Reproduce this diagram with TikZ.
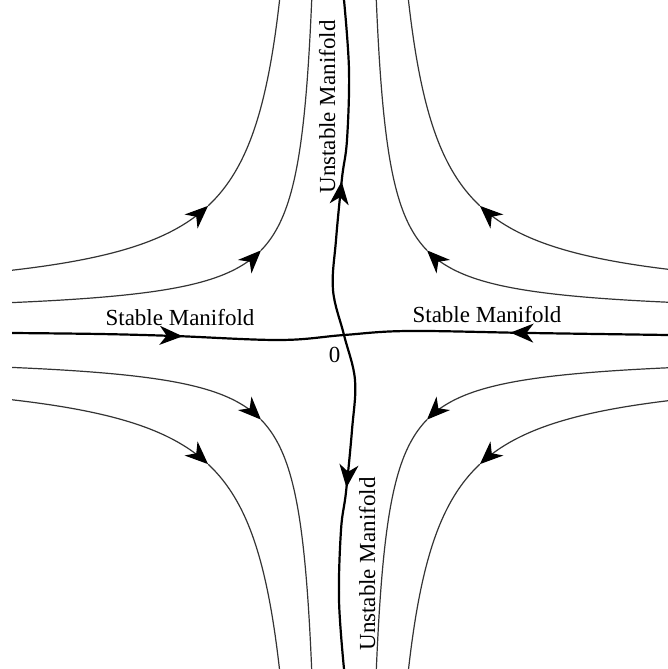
\documentclass[tikz,border=0pt]{standalone}
\usepackage{fontspec}
\setmainfont{Liberation Serif}
\usetikzlibrary{arrows.meta,decorations.markings}
\tikzset{
  flow/.style={line width=1.2pt, black!80},
  manifold/.style={line width=2.2pt, black},
  lbl/.style={font=\fontsize{23}{27}\selectfont, inner sep=0pt},
  flowhead/.style={{Stealth[length=23pt,width=19pt,inset=7pt,color=black]}-},
}
\newcommand\flowcurve[7]{%
  \draw[flow,flowhead] plot[domain=#6:#7,samples=70,variable=\t]
    ({344+(#1)*(#3+exp(\t))},{335+(#2)*(#3+#4/exp(\t))});
  \draw[flow] plot[domain=#5:#6,samples=70,variable=\t]
    ({344+(#1)*(#3+exp(\t))},{335+(#2)*(#3+#4/exp(\t))});
}
\begin{document}
\begin{tikzpicture}[x=1pt,y=-1pt]
\useasboundingbox[fill=white] (0,0) rectangle (668,669);
\begin{scope}
\clip (12,0) rectangle (668,669);
% outer curves
\flowcurve{-1}{-1}{30}{10500}{3.506}{4.663}{5.74}
\flowcurve{1}{-1}{30}{10500}{3.506}{4.663}{5.74}
\flowcurve{-1}{1}{30}{10500}{3.506}{4.663}{5.74}
\flowcurve{1}{1}{30}{10500}{3.506}{4.663}{5.74}
% inner curves
\flowcurve{-1}{-1}{19}{4200}{2.556}{4.159}{5.78}
\flowcurve{1}{-1}{19}{4200}{2.556}{4.159}{5.78}
\flowcurve{-1}{1}{19}{4200}{2.556}{4.159}{5.78}
\flowcurve{1}{1}{19}{4200}{2.556}{4.159}{5.78}
% stable manifold
\draw[manifold, postaction={decorate}, decoration={markings,
    mark=at position 0.26 with {\arrow{Stealth[length=23pt,width=19pt,inset=7pt]}},
    mark=at position 0.76 with {\arrowreversed{Stealth[length=23pt,width=19pt,inset=7pt]}}}]
  plot[smooth, tension=0.6] coordinates {(12,333) (100,334) (175,336) (280,340) (344,335) (408,331) (530,333) (668,335)};
% unstable manifold
\draw[manifold, postaction={decorate}, decoration={markings,
    mark=at position 0.27 with {\arrowreversed{Stealth[length=23pt,width=19pt,inset=7pt]}},
    mark=at position 0.73 with {\arrow{Stealth[length=23pt,width=19pt,inset=7pt]}}}]
  plot[smooth, tension=0.6] coordinates {(344,0) (349,70) (347,140) (342,178) (336,240) (333,290) (344,335) (355,380) (352,430) (346,492) (341,530) (339,600) (344,669)};
\end{scope}
\node[lbl, anchor=base] (sl) at (180,325) {Stable Manifold};
\node[lbl, anchor=base] (sr) at (487,322) {Stable Manifold};
\node[lbl, anchor=base] (zero) at (334.5,362) {0};
\node[lbl, anchor=base, rotate=90] (ut) at (335,107) {Unstable Manifold};
\node[lbl, anchor=base, rotate=90] (ub) at (375,564) {Unstable Manifold};
\end{tikzpicture}
\end{document}
